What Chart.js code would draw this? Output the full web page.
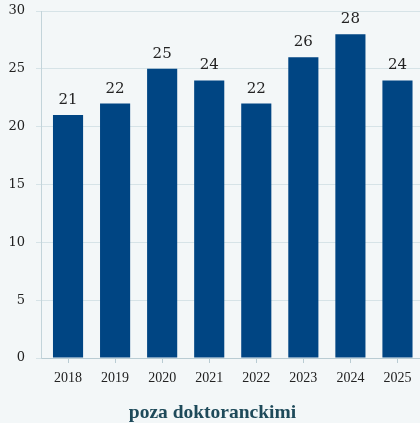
<!DOCTYPE html>
<html>
<head>
<meta charset="utf-8">
<script src="https://cdn.jsdelivr.net/npm/chart.js@4.4.1/dist/chart.umd.min.js"></script>
<style>
  html, body { margin: 0; padding: 0; background: #f3f7f8; }
  #wrap { width: 420px; height: 423px; }
</style>
</head>
<body>
<div id="wrap"><canvas id="chart"></canvas></div>
<script>
const years = ['2018', '2019', '2020', '2021', '2022', '2023', '2024', '2025']
const counts = [21, 22, 25, 24, 22, 26, 28, 24]
const yTicks = [0, 5, 10, 15, 20, 25, 30]

// value labels above each bar
const barLabels = {
  id: 'barLabels',
  afterDatasetsDraw(chart) {
    const ctx = chart.ctx
    const meta = chart.getDatasetMeta(0)
    ctx.save()
    ctx.font = '15px "DejaVu Serif"'
    ctx.fillStyle = '#222'
    ctx.textAlign = 'center'
    ctx.textBaseline = 'alphabetic'
    meta.data.forEach((bar, i) => {
      ctx.fillText(String(counts[i]), bar.x, bar.y - 11)
    })
    ctx.restore()
  }
}

// the category band in the original starts a few px right of the y axis
// and runs slightly past the right edge
const shiftCategories = {
  id: 'shiftCategories',
  afterLayout(chart) {
    const x = chart.scales.x
    const start = x.left + 3.5
    const end = x.right + 1
    x._startPixel = start
    x._endPixel = end
    x._length = end - start
  }
}

new Chart(document.getElementById('chart'), {
  type: 'bar',
  data: {
    labels: years,
    datasets: [{
      data: counts,
      backgroundColor: '#004583',
      borderWidth: 0,
      categoryPercentage: 0.64,
      barPercentage: 1
    }]
  },
  options: {
    responsive: true,
    maintainAspectRatio: false,
    animation: false,
    layout: { padding: { top: 11, right: 0, left: 5, bottom: 0 } },
    plugins: {
      legend: { display: false },
      tooltip: { enabled: false },
      title: {
        display: true,
        position: 'bottom',
        text: 'poza doktoranckimi',
        color: '#1e4a5a',
        font: { family: 'Liberation Serif', size: 19.5, weight: 'bold', lineHeight: 1.0 },
        padding: { top: 0, bottom: 0 }
      }
    },
    scales: {
      x: {
        afterFit(scale) {
          scale.height = 45.5
          scale.paddingLeft = 0
          scale.paddingRight = 0
        },
        grid: {
          display: true,
          drawOnChartArea: false,
          drawTicks: true,
          tickLength: 5,
          offset: false,
          color: '#b9ccd3'
        },
        border: { color: '#b9ccd3' },
        ticks: {
          color: '#222',
          font: { family: 'Liberation Serif', size: 14 },
          padding: 7,
          maxRotation: 0
        }
      },
      y: {
        min: 0,
        max: 30,
        afterBuildTicks(axis) {
          axis.ticks = yTicks.map(v => ({ value: v }))
        },
        afterFit(scale) {
          scale.width = 36
          scale.paddingTop = 0
          scale.paddingBottom = 0
        },
        grid: {
          color: '#d6e3e7',
          tickLength: 5
        },
        border: { color: '#c3d4da' },
        ticks: {
          color: '#222',
          font: { family: 'DejaVu Serif', size: 13 },
          padding: 11
        }
      }
    }
  },
  plugins: [barLabels, shiftCategories]
})
</script>
</body>
</html>
